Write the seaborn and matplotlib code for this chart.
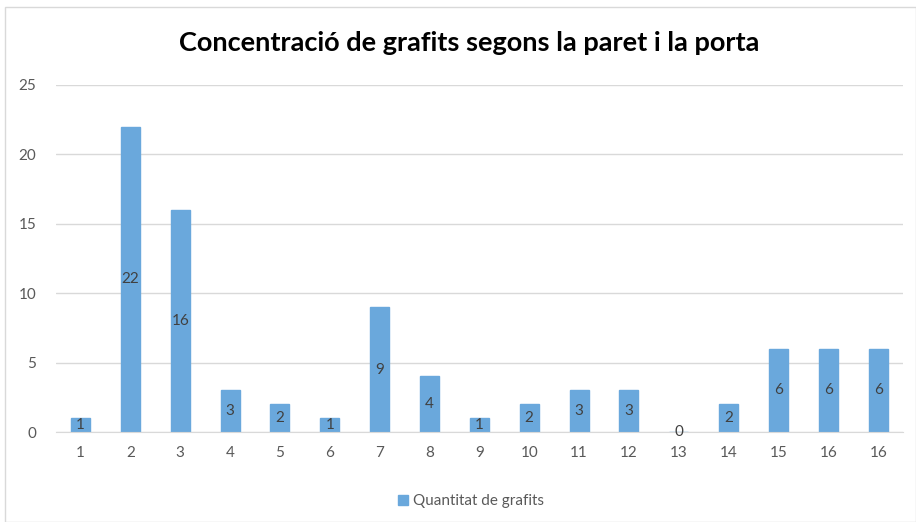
import matplotlib
matplotlib.use("Agg")
import matplotlib.pyplot as plt
import seaborn as sns
import pandas as pd
from matplotlib.patches import Rectangle

# data
labels = ["1", "2", "3", "4", "5", "6", "7", "8", "9", "10", "11", "12", "13", "14", "15", "16", "16"]
grafits = [1, 22, 16, 3, 2, 1, 9, 4, 1, 2, 3, 3, 0, 2, 6, 6, 6]

df = pd.DataFrame({"pos": list(range(len(labels))), "grafits": grafits})

sns.set_style("white")
plt.rcParams["font.family"] = ["Lato", "DejaVu Sans"]

fig = plt.figure(figsize=(9.16, 5.22), dpi=100)
ax = fig.add_axes([0.0606, 0.1724, 0.9254, 0.6648])

sns.barplot(data=df, x="pos", y="grafits", color="#6AA8DC", saturation=1,
            width=0.38, ax=ax, label="Quantitat de grafits", edgecolor="#6AA8DC")

ax.set_ylim(0, 25)
ax.set_xlim(-0.5, len(labels) - 0.5)
ax.set_yticks([0, 5, 10, 15, 20, 25])
ax.set_xticks(range(len(labels)))
ax.set_xticklabels(labels)
ax.set_xlabel("")
ax.set_ylabel("")
ax.tick_params(axis="both", length=0, labelsize=11, colors="#595959")
ax.tick_params(axis="x", pad=10)
ax.tick_params(axis="y", pad=14)
ax.grid(axis="y", color="#d9d9d9", linewidth=1)
ax.set_axisbelow(True)
for s in ["top", "right", "left"]:
    ax.spines[s].set_visible(False)
ax.spines["bottom"].set_color("#d9d9d9")

# value labels in the middle of each bar
for p, v in zip(ax.patches, grafits):
    ax.text(p.get_x() + p.get_width() / 2, v / 2, str(v), ha="center", va="center",
            fontsize=11, color="#404040")

fig.text(0.512, 0.918, "Concentració de grafits segons la paret i la porta",
         ha="center", va="center", fontsize=19.5, fontweight="bold", color="#000000")

leg = ax.legend(loc="center", bbox_to_anchor=(0.49, -0.2), frameon=False,
                fontsize=11, handlelength=0.7, handleheight=0.7, handletextpad=0.3)
for t in leg.get_texts():
    t.set_color("#595959")

fig.add_artist(Rectangle((0.006, 0.0), 0.994, 0.986, transform=fig.transFigure,
                         fill=False, edgecolor="#d9d9d9", linewidth=1))

fig.savefig("out.png", dpi=100)
